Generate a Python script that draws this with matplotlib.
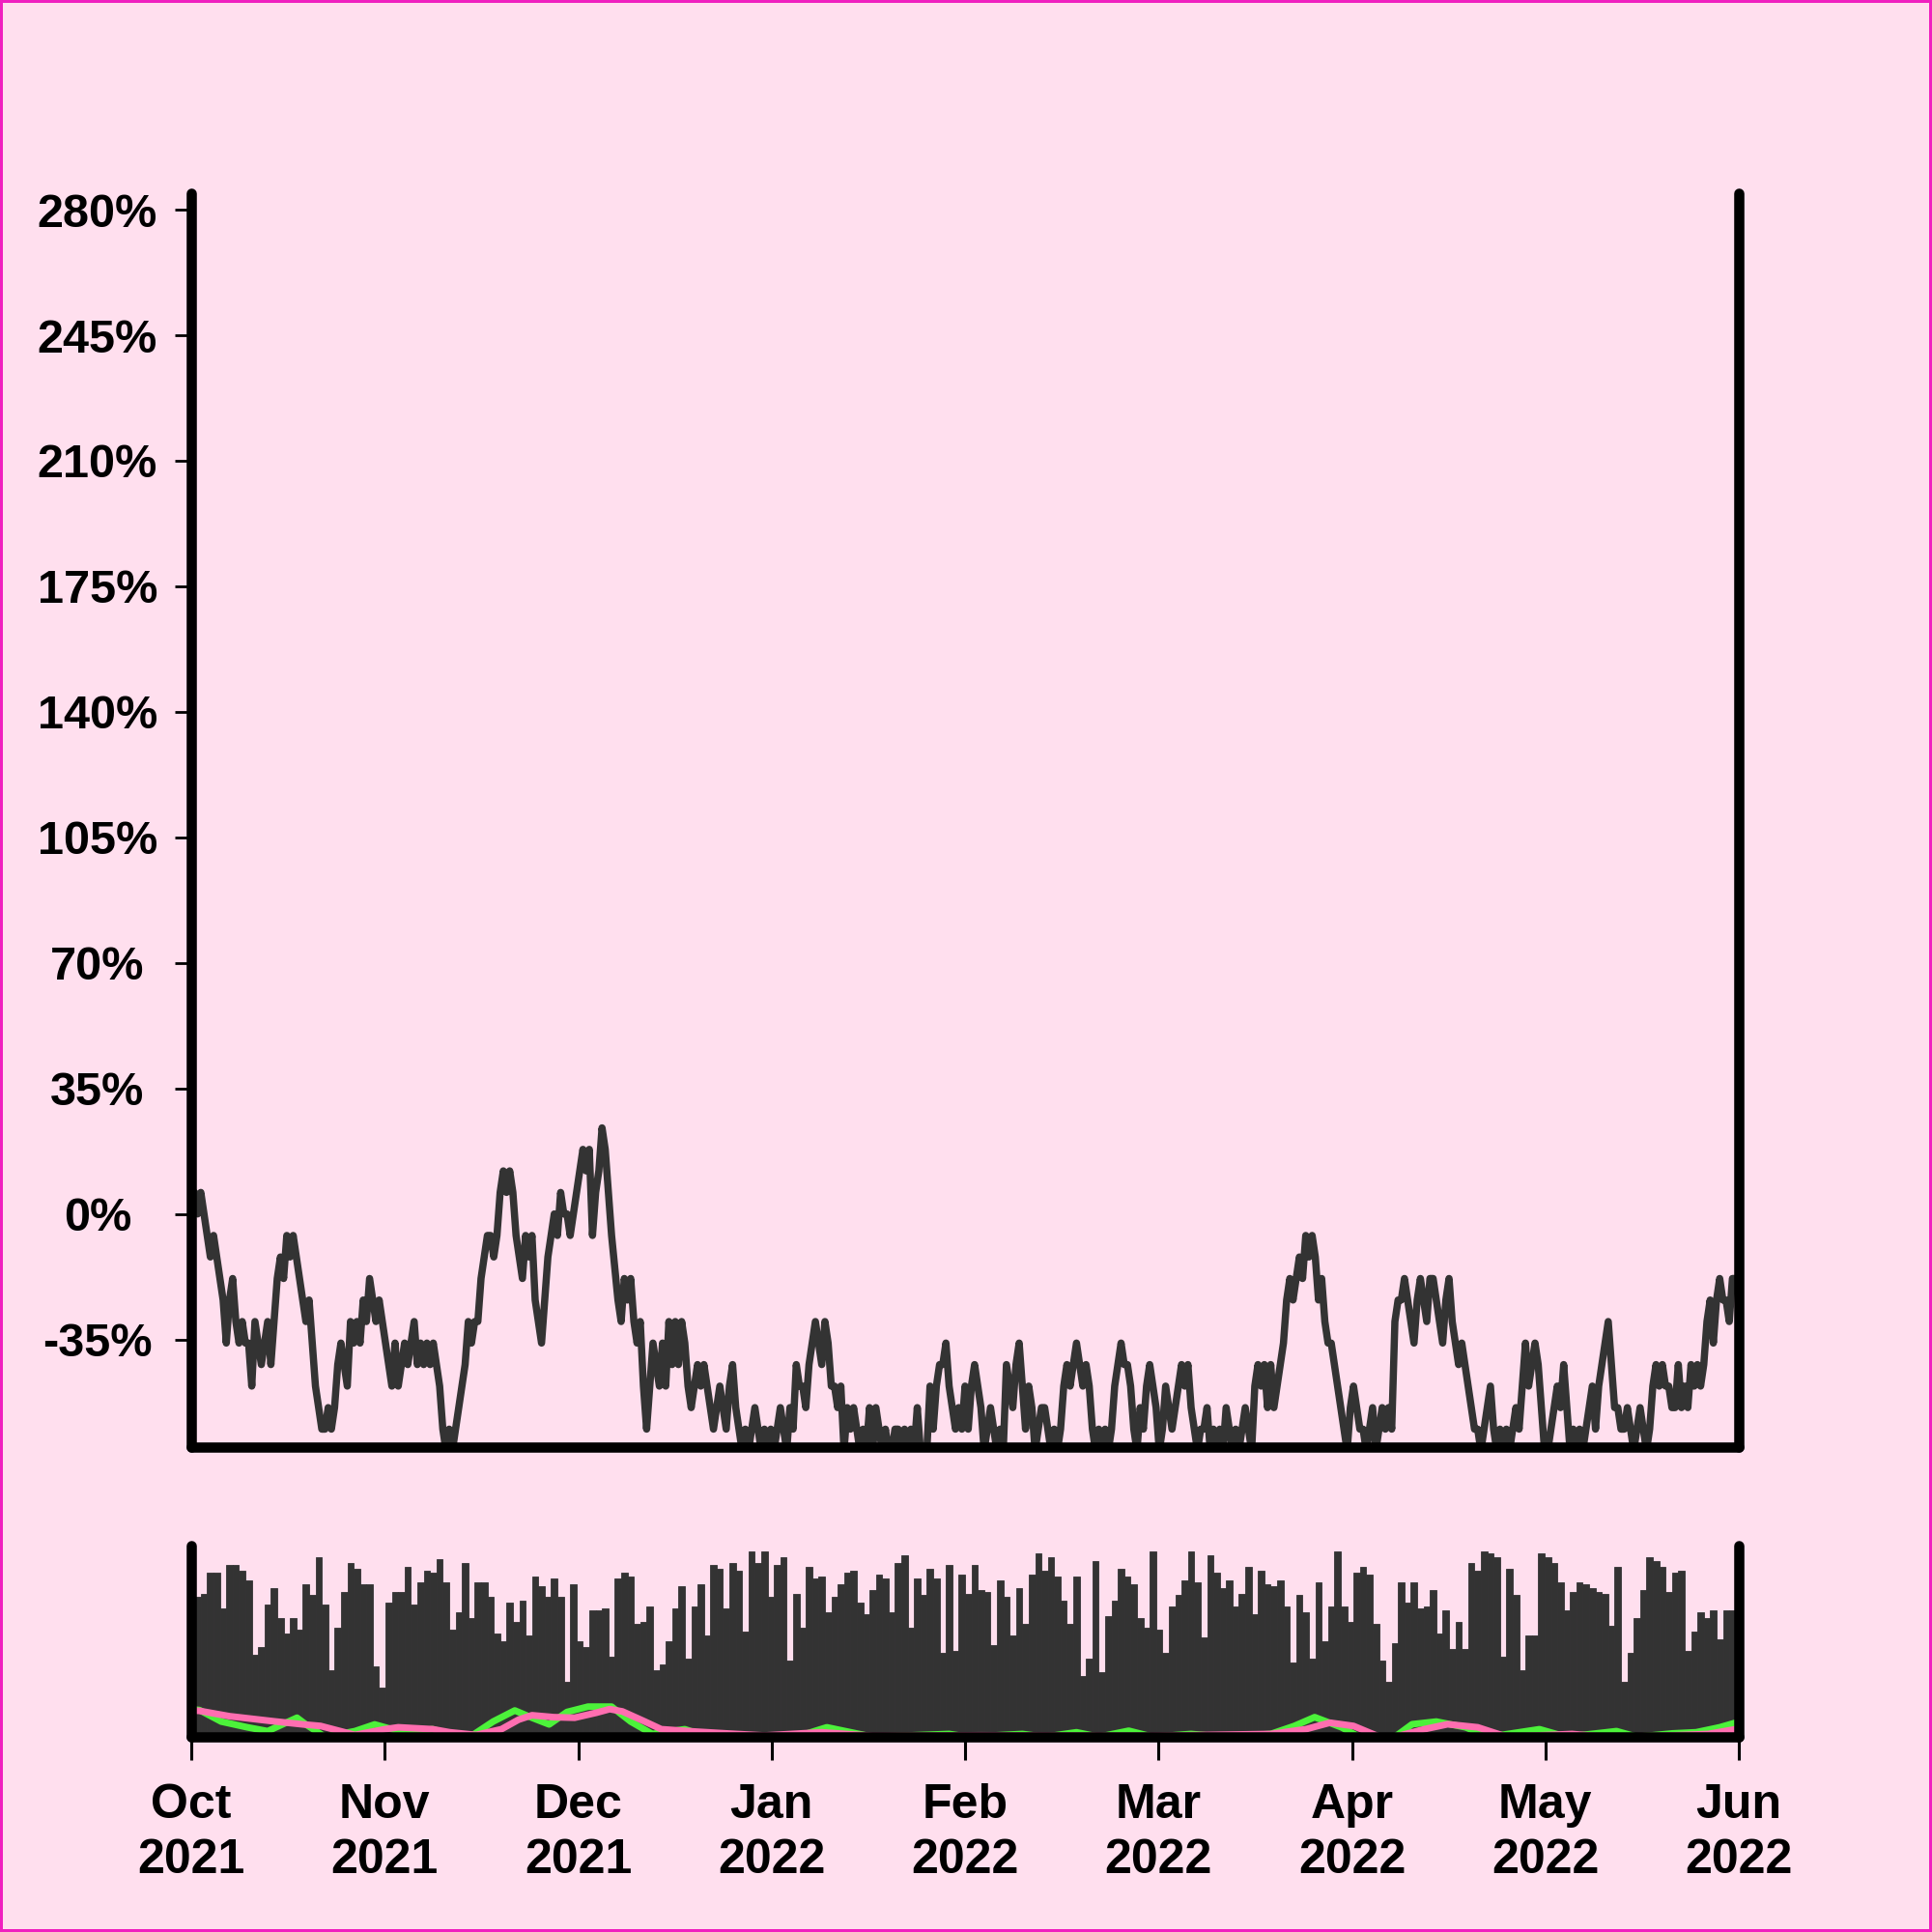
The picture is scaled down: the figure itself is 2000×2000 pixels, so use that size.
import matplotlib
matplotlib.use("Agg")
import matplotlib.pyplot as plt
import numpy as np

plt.rcParams['font.family'] = ['Liberation Sans', 'DejaVu Sans']
plt.rcParams['font.weight'] = 'bold'

BG = '#ffdfee'
INK = '#333333'

# % change, two readings per day (start of day, midday)
price_pct = [
    (0, 6), (0, 6), (0, -6), (-12, -6), (-12, -18), (-24, -36), (-24, -18), (-30, -36), (-30, -36), (-36, -48),
    (-30, -36), (-42, -36), (-30, -42), (-30, -18), (-12, -18), (-6, -12), (-6, -12), (-18, -24), (-30, -24), (-36, -48),
    (-54, -60), (-60, -54), (-60, -54), (-42, -36), (-42, -48), (-30, -36), (-30, -36), (-24, -30), (-18, -24), (-30, -24),
    (-30, -36), (-42, -48), (-36, -48), (-42, -36), (-42, -36), (-30, -42), (-36, -42), (-36, -42), (-36, -42), (-48, -60),
    (-66, -60), (-66, -60), (-54, -48), (-42, -30), (-36, -30), (-30, -18), (-12, -6), (-6, -12), (-6, 6), (12, 6),
    (12, 6), (-6, -12), (-18, -6), (-12, -6), (-24, -30), (-36, -24), (-12, -6), (0, -6), (6, 0), (0, -6),
    (0, 6), (12, 18), (12, 18), (-6, 6), (12, 24), (18, 6), (-6, -15), (-24, -30), (-18, -24), (-18, -30),
    (-36, -30), (-48, -60), (-48, -36), (-42, -48), (-36, -48), (-30, -42), (-30, -42), (-30, -36), (-48, -54), (-48, -42),
    (-48, -42), (-48, -54), (-60, -54), (-48, -54), (-60, -48), (-42, -54), (-60, -66), (-60, -66), (-60, -54), (-60, -66),
    (-60, -66), (-60, -66), (-60, -54), (-60, -66), (-54, -60), (-42, -48), (-48, -54), (-42, -36), (-30, -36), (-42, -30),
    (-36, -48), (-48, -54), (-48, -66), (-54, -60), (-54, -60), (-66, -60), (-66, -54), (-66, -54), (-60, -66), (-60, -66),
    (-66, -60), (-60, -66), (-60, -66), (-60, -66), (-54, -66), (-66, -66), (-48, -60), (-48, -42), (-42, -36), (-48, -54),
    (-60, -54), (-60, -48), (-60, -48), (-42, -48), (-54, -66), (-60, -54), (-60, -66), (-60, -66), (-42, -48), (-54, -42),
    (-36, -48), (-60, -48), (-54, -66), (-60, -54), (-54, -60), (-66, -60), (-66, -60), (-48, -42), (-48, -42), (-36, -42),
    (-48, -42), (-48, -60), (-66, -60), (-66, -60), (-66, -60), (-48, -42), (-36, -42), (-42, -48), (-60, -66), (-54, -60),
    (-48, -42), (-48, -54), (-66, -60), (-48, -54), (-60, -54), (-48, -42), (-48, -42), (-54, -60), (-66, -60), (-60, -54),
    (-66, -60), (-66, -60), (-66, -54), (-60, -66), (-60, -66), (-60, -54), (-60, -66), (-48, -42), (-48, -42), (-54, -42),
    (-54, -48), (-42, -36), (-24, -18), (-24, -18), (-12, -18), (-6, -12), (-6, -12), (-24, -18), (-30, -36), (-36, -42),
    (-48, -54), (-60, -66), (-54, -48), (-54, -60), (-60, -66), (-60, -54), (-66, -60), (-54, -60), (-54, -60), (-30, -24),
    (-24, -18), (-24, -30), (-36, -24), (-18, -24), (-30, -18), (-18, -24), (-30, -36), (-24, -18), (-30, -36), (-42, -36),
    (-42, -48), (-54, -60), (-60, -66), (-60, -54), (-48, -60), (-66, -60), (-66, -60), (-66, -60), (-54, -60), (-48, -36),
    (-48, -42), (-36, -42), (-54, -66), (-66, -60), (-54, -48), (-54, -42), (-54, -66), (-60, -66), (-60, -66), (-60, -54),
    (-48, -60), (-48, -42), (-36, -30), (-42, -54), (-54, -60), (-60, -54), (-60, -66), (-60, -54), (-60, -66), (-60, -48),
    (-42, -48), (-42, -48), (-48, -54), (-54, -42), (-54, -48), (-54, -42), (-48, -42), (-48, -42), (-30, -24), (-36, -24),
    (-18, -24), (-24, -30), (-18, -18),
]

volume = [
    72, 73, 75, 86, 86, 67, 90, 90, 87, 82,
    43, 47, 69, 78, 62, 54, 62, 56, 80, 74,
    94, 69, 35, 57, 76, 91, 88, 80, 80, 37,
    26, 70, 76, 76, 89, 69, 81, 87, 86, 93,
    81, 56, 65, 91, 62, 81, 81, 73, 54, 50,
    70, 60, 71, 53, 84, 79, 73, 83, 73, 29,
    80, 50, 47, 66, 66, 67, 42, 83, 86, 84,
    59, 60, 68, 35, 38, 50, 67, 79, 41, 68,
    80, 53, 90, 88, 67, 91, 87, 55, 97, 91,
    97, 73, 90, 94, 40, 75, 57, 89, 83,
    84, 65, 73, 80, 86, 87, 70, 64, 77, 85,
    83, 65, 91, 95, 57, 83, 74, 88, 83, 44,
    90, 45, 85, 75, 90, 77, 76, 48, 82, 73,
    53, 78, 59, 85, 96, 87, 94, 84, 71, 59,
    84, 32, 41, 92, 34, 63, 71, 88, 84, 80,
    62, 57, 97, 56, 44, 68, 74, 82, 97, 81,
    52, 95, 86, 78, 82, 68, 75, 89, 64, 87,
    80, 79, 82, 68, 39, 74, 65, 41, 81, 50,
    68, 97, 68, 60, 86, 89, 85, 59, 40, 29,
    49, 81, 70, 81, 67, 68, 77, 54, 66, 46,
    60, 46, 91, 87, 97, 96, 94, 42, 88, 74,
    35, 53, 53, 96, 94, 91, 81, 66, 76, 81,
    80, 78, 76, 75, 58, 89, 29, 44, 62, 77,
    94, 92, 89, 76, 86, 87, 45, 55, 65, 62,
    66, 51, 66, 66,
]

fast_x = [0, 1.3, 4.7, 8.8, 12, 16.6, 18, 21, 25.7, 28.8, 33.2, 37.9, 40.6, 44, 47.4, 50.8,
          53.5, 56.2, 59, 62.3, 66, 69, 72.4, 77.5, 80.5, 85, 95, 99.8, 107, 119, 122,
          130.5, 134, 139, 142.5, 147.2, 151, 157, 162, 169.5, 173.2, 176.4, 180.6, 183.4,
          189, 191.7, 195.5, 200.1, 203.8, 211.7, 215.9, 223.8, 227, 232.6, 236.3, 240, 242.5]
fast_y = [14.5, 14, 8, 5, 3, 10, 6.5, 0, 3, 6.5, 2.4, 4, 1.5, 0.5, 8, 13.8,
          10, 6.5, 13, 15.8, 15.8, 8, 1.5, 4, 0.7, 0, 0, 5, 0, 1.5, 0,
          1.5, 0, 2.4, 0, 3.2, 0, 1.5, 0, 1.5, 5.7, 10.3, 5, 0,
          0, 6.6, 8, 5, 0, 4, 0, 3, 0, 1.8, 2.4, 5, 7.4]

slow_x = [0, 1.3, 6, 12.8, 17.6, 20.3, 25.7, 30.4, 32.5, 37.9, 40.6, 44.7, 48.7, 51.4,
          53.5, 56.9, 60.2, 63.6, 65.7, 67.7, 71.1, 73.8, 78.5, 84, 90, 99, 107, 124, 150,
          169.5, 175, 178.8, 182.5, 186.6, 189, 193.6, 197.3, 202, 206.6, 216.8, 222,
          230.8, 238.2, 242.5]
slow_y = [13.8, 13.6, 10.8, 8.2, 6.5, 5.7, 1, 4, 5, 4, 2.4, 1, 4, 9,
          11.3, 10.3, 10, 12.6, 14.5, 13.3, 8.2, 4, 2.9, 1.8, 0.7, 2.4, 0.5, 0.8, 0.5,
          1.5, 4, 7.4, 5.7, 0, 0, 4, 6.6, 5, 0, 1.5, 0,
          0.5, 1.5, 4]

month_labels = ['Oct\n2021', 'Nov\n2021', 'Dec\n2021', 'Jan\n2022', 'Feb\n2022',
                'Mar\n2022', 'Apr\n2022', 'May\n2022', 'Jun\n2022']
y_ticks = [-35, 0, 35, 70, 105, 140, 175, 210, 245, 280]

n = len(price_pct)
xs = (np.arange(n)[:, None] + np.array([0.0, 0.5])).ravel()
ys = np.array(price_pct, dtype=float).ravel()
x_end = 243


def style(a):
    a.set_facecolor(BG)
    a.spines['top'].set_visible(False)
    for s in ('left', 'right', 'bottom'):
        a.spines[s].set_linewidth(3.8)
        a.spines[s].set_color('black')
        a.spines[s].set_capstyle('round')
        a.spines[s].set_joinstyle('round')
    a.set_xlim(0, x_end)


fig = plt.figure(figsize=(10, 10), dpi=200, facecolor=BG, edgecolor='#f01fbf', linewidth=1.5)

ax = fig.add_axes([0.099, 0.251, 0.801, 0.649])
style(ax)
ax.plot(xs, ys, color=INK, lw=2.7, solid_joinstyle='round', solid_capstyle='round')
ax.set_ylim(-65, 284.6)
ax.set_yticks(y_ticks)
ax.set_yticklabels(['%d%%' % v for v in y_ticks])
ax.set_xticks([])
ax.tick_params(axis='y', length=6, width=1.0, pad=29, labelsize=17.5, colors='black')
for lbl in ax.get_yticklabels():
    lbl.set_ha('center')

ax_v = fig.add_axes([0.099, 0.101, 0.801, 0.099])
style(ax_v)
ax_v.bar(np.arange(len(volume)), volume, width=1.0, color=INK, edgecolor=INK, linewidth=0.3)
ax_v.plot(fast_x, fast_y, color='#4cf23a', lw=2.5, solid_joinstyle='round')
ax_v.plot(slow_x, slow_y, color='#ff6eb0', lw=2.5, solid_joinstyle='round')
ax_v.set_ylim(0, 100)
ax_v.set_yticks([])
ax_v.set_xticks(np.linspace(0, x_end, 9))
ax_v.set_xticklabels(month_labels, linespacing=1.3)
ax_v.tick_params(axis='x', length=8.8, width=1.1, pad=8.5, labelsize=18, colors='black')

fig.savefig('out.png', dpi=200, facecolor=BG, edgecolor=fig.get_edgecolor())
